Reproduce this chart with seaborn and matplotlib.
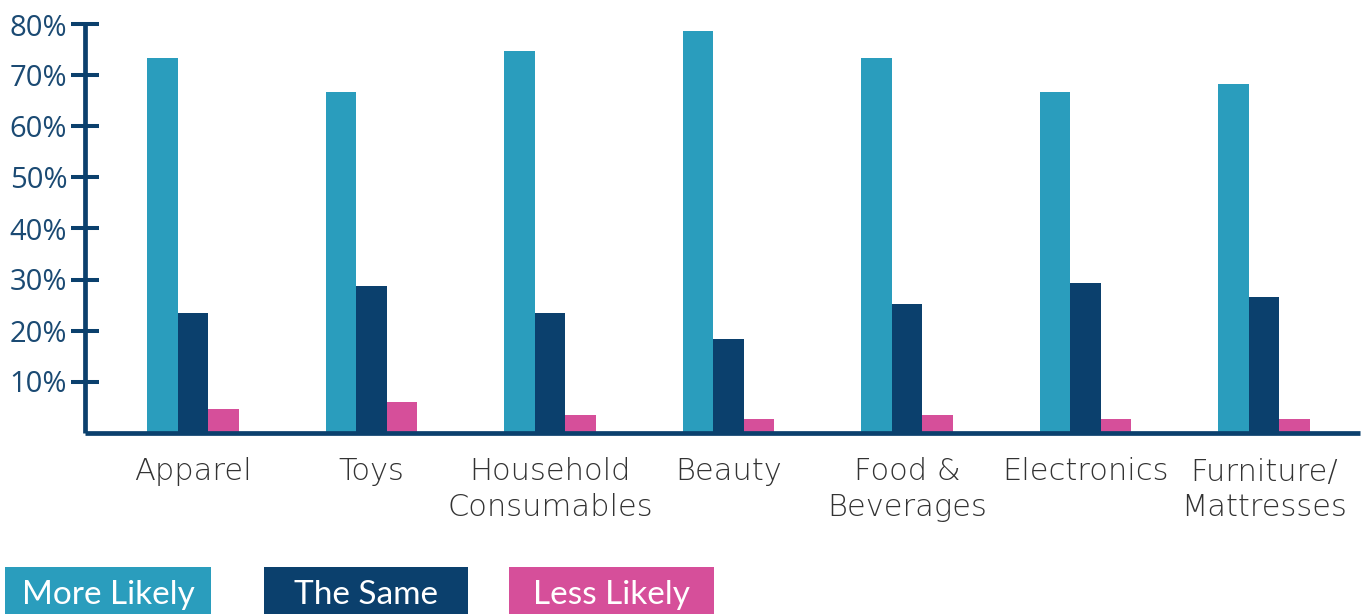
import matplotlib
matplotlib.use("Agg")
import matplotlib.pyplot as plt
from matplotlib.patches import Rectangle
import seaborn as sns
import pandas as pd

categories = ["Apparel", "Toys", "Household\nConsumables", "Beauty",
              "Food &\nBeverages", "Electronics", "Furniture/\nMattresses"]
series_names = ["More Likely", "The Same", "Less Likely"]
more_likely = [73.4, 66.8, 74.8, 78.7, 73.4, 66.8, 68.3]
the_same = [23.4, 28.7, 23.4, 18.3, 25.2, 29.3, 26.6]
less_likely = [4.6, 6.0, 3.4, 2.6, 3.4, 2.6, 2.6]
y_ticks = [10, 20, 30, 40, 50, 60, 70, 80]
y_tick_labels = ["10%", "20%", "30%", "40%", "50%", "60%", "70%", "80%"]

colors = ["#2a9dbd", "#0b406d", "#d64f9a"]
navy = "#0b406d"

rows = []
for name, vals in zip(series_names, [more_likely, the_same, less_likely]):
    for cat, v in zip(categories, vals):
        rows.append({"category": cat, "series": name, "value": v})
df = pd.DataFrame(rows)

sns.set_theme(style="white")
plt.rcParams["font.family"] = ["Open Sans", "DejaVu Sans"]

fig = plt.figure(figsize=(13.62, 6.14), dpi=100)
W, H = 1362, 614
ax = fig.add_axes([85 / W, (H - 432.5) / H, 1275 / W, 408 / H])

sns.barplot(data=df, x="category", y="value", hue="series",
            order=categories, hue_order=series_names, palette=colors,
            width=0.515, gap=0, saturation=1, legend=False, ax=ax,
            linewidth=0, errorbar=None)

ax.set_xlim(-0.605, 6.538)
ax.set_ylim(0, 80)
ax.set_xlabel("")
ax.set_ylabel("")

for side in ["top", "right"]:
    ax.spines[side].set_visible(False)
for side in ["left", "bottom"]:
    ax.spines[side].set_color(navy)
    ax.spines[side].set_linewidth(3.4)
    ax.spines[side].set_capstyle("butt")

ax.set_yticks(y_ticks)
ax.set_yticklabels(y_tick_labels)
ax.tick_params(axis="y", direction="inout", length=19.5, width=2.9,
               color=navy, labelcolor="#1b4a73", labelsize=21, pad=3, left=True)

ax.tick_params(axis="x", length=0, pad=18, labelsize=22, labelcolor="#333333")
for lbl in ax.get_xticklabels():
    lbl.set_fontfamily(["DejaVu Sans"])
    lbl.set_fontweight("light")
    lbl.set_linespacing(1.3)

# legend boxes along the bottom edge
boxes = [(5, 211), (264, 468), (509, 714)]
for (x0, x1), name, col in zip(boxes, series_names, colors):
    fig.patches.append(Rectangle((x0 / W, 0), (x1 - x0) / W, (H - 567) / H,
                                 transform=fig.transFigure, facecolor=col,
                                 edgecolor="none"))
    fig.text((x0 + x1) / 2 / W, (H - 595) / H, name, color="white",
             fontsize=24, fontweight="normal", ha="center", va="center",
             family=["Lato", "DejaVu Sans"])

fig.savefig("out.png", dpi=100, facecolor="white")
